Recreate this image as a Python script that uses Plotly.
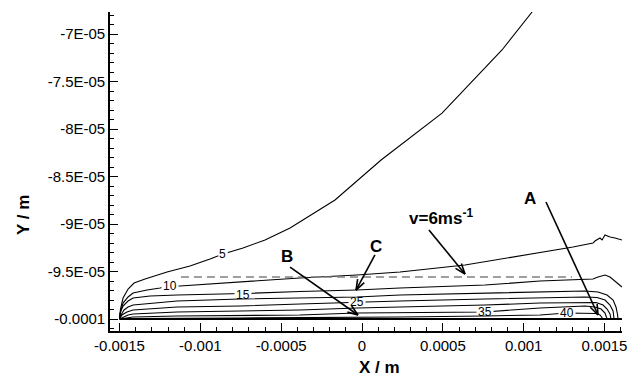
import numpy as np
import plotly.graph_objects as go

# ---------------- data (x in units of 1e-4 m, y in units of 1e-5 m) ----------------
levels = [5, 10, 15, 20, 25, 30, 35, 40]

c5_x = [-15.0, -14.94, -14.78, -14.47, -14.10, -13.42, -12.06, -10.64, -9.40, -8.60, -7.36, -6.00, -4.45, -1.67, 1.18, 4.95, 8.66, 10.52]
c5_y = [-10.0, -9.895, -9.779, -9.684, -9.621, -9.579, -9.505, -9.442, -9.368, -9.316, -9.253, -9.168, -9.042, -8.747, -8.326, -7.832, -7.168, -6.768]

c10_x = [-15.0, -14.91, -14.78, -14.47, -14.16, -13.30, -12.49, -11.88, -11.26, -7.55, -3.84, -0.31, 2.35, 6.37, 11.01, 13.05, 14.29, 14.41, 14.72, 14.85, 15.03, 15.34, 15.65, 16.08]
c10_y = [-10.0, -9.905, -9.832, -9.768, -9.726, -9.695, -9.674, -9.653, -9.653, -9.611, -9.568, -9.537, -9.505, -9.432, -9.305, -9.242, -9.200, -9.179, -9.147, -9.168, -9.116, -9.137, -9.147, -9.168]

c15_x = [-15.0, -14.97, -14.78, -14.47, -14.16, -13.11, -11.44, -7.36, -3.84, -0.31, 2.35, 7.61, 11.01, 13.05, 14.29, 14.60, 15.03, 15.34, 15.65, 16.08]
c15_y = [-10.0, -9.937, -9.863, -9.811, -9.779, -9.758, -9.747, -9.732, -9.711, -9.695, -9.674, -9.642, -9.600, -9.589, -9.579, -9.558, -9.537, -9.558, -9.600, -9.663]

c20_x = [-15.0, -14.91, -14.72, -14.47, -14.16, -11.44, -7.55, -3.84, -0.31, 2.35, 7.61, 11.01, 13.79, 14.60, 15.16, 15.53, 15.71, 15.80, 15.84]
c20_y = [-10.0, -9.958, -9.905, -9.874, -9.853, -9.811, -9.789, -9.779, -9.768, -9.747, -9.726, -9.716, -9.705, -9.716, -9.747, -9.800, -9.874, -9.947, -10.0]

c25_x = [-15.0, -14.85, -14.54, -14.16, -11.44, -7.55, -3.84, -0.31, 2.35, 7.61, 11.01, 13.79, 14.54, 15.03, 15.34, 15.53, 15.59]
c25_y = [-10.0, -9.958, -9.926, -9.905, -9.874, -9.863, -9.842, -9.821, -9.811, -9.789, -9.779, -9.768, -9.774, -9.800, -9.853, -9.916, -10.0]

c30_x = [-15.0, -14.78, -14.47, -14.16, -11.44, -7.55, -3.84, -0.31, 2.35, 7.61, 11.01, 13.79, 14.48, 14.91, 15.16, 15.34, 15.40]
c30_y = [-10.0, -9.979, -9.958, -9.947, -9.926, -9.916, -9.905, -9.884, -9.874, -9.853, -9.832, -9.821, -9.826, -9.853, -9.895, -9.947, -10.0]

c35_x = [-15.0, -14.66, -14.16, -11.44, -7.55, -3.84, -0.31, 2.35, 7.61, 11.01, 13.79, 14.41, 14.79, 15.03, 15.16]
c35_y = [-10.0, -9.989, -9.979, -9.968, -9.963, -9.958, -9.937, -9.932, -9.926, -9.884, -9.863, -9.874, -9.895, -9.937, -10.0]

c40_x = [-15.0, -14.16, -7.55, -0.31, 2.35, 7.61, 11.01, 12.68, 13.79, 14.48, 14.72, 14.91]
c40_y = [-10.0, -9.995, -9.989, -9.984, -9.979, -9.968, -9.958, -9.937, -9.937, -9.942, -9.958, -10.0]

contour_x = [c5_x, c10_x, c15_x, c20_x, c25_x, c30_x, c35_x, c40_x]
contour_y = [c5_y, c10_y, c15_y, c20_y, c25_y, c30_y, c35_y, c40_y]

# contour labels
label_text = ["5", "10", "15", "25", "35", "40"]
label_x = [-8.60, -11.88, -7.36, -0.31, 7.61, 12.68]
label_y = [-9.311, -9.653, -9.742, -9.821, -9.926, -9.937]

# wall and v = 6 m/s dashed line
wall_x = [-15.0, 16.08]
wall_y = [-10.0, -10.0]
dash_x = [-11.20, 12.99]
dash_y = [-9.558, -9.558]

# callouts: text position, arrow tail, arrow tip
call_text = ["A", "B", "C", "v=6ms<sup>-1</sup>"]
call_tx = [10.42, -4.61, 0.84, 4.89]
call_ty = [-8.732, -9.342, -9.237, -8.926]
arr_x0 = [11.38, -4.45, 0.80, 4.14]
arr_y0 = [-8.768, -9.453, -9.326, -9.063]
arr_x1 = [14.60, -0.25, -0.37, 6.37]
arr_y1 = [-9.958, -9.958, -9.695, -9.526]

x_ticks = [-0.0015, -0.001, -0.0005, 0, 0.0005, 0.001, 0.0015]
x_ticktext = ["-0.0015", "-0.001", "-0.0005", "0", "0.0005", "0.001", "0.0015"]
y_ticks = [-7e-05, -7.5e-05, -8e-05, -8.5e-05, -9e-05, -9.5e-05, -0.0001]
y_ticktext = ["-7E-05", "-7.5E-05", "-8E-05", "-8.5E-05", "-9E-05", "-9.5E-05", "-0.0001"]

SX, SY = 1e-4, 1e-5

# ---------------- figure ----------------
W, H = 641, 377
ML, MR, MT, MB = 110, 19, 12, 46
xr = [-0.0015588, 0.0016082]
yr = [-1.01263e-4, -6.768e-5]
kx = (W - ML - MR) / (xr[1] - xr[0])
ky = (H - MT - MB) / (yr[1] - yr[0])

FONT = "Arial, Liberation Sans, Helvetica, sans-serif"

fig = go.Figure()

for cx, cy in zip(contour_x, contour_y):
    fig.add_trace(go.Scatter(x=np.array(cx) * SX, y=np.array(cy) * SY, mode="lines",
                             line=dict(color="black", width=1.1), hoverinfo="skip",
                             showlegend=False))

fig.add_trace(go.Scatter(x=np.array(dash_x) * SX, y=np.array(dash_y) * SY, mode="lines",
                         line=dict(color="#808080", width=1.6, dash="8px,5px"),
                         hoverinfo="skip", showlegend=False))
fig.add_trace(go.Scatter(x=np.array(wall_x) * SX, y=np.array(wall_y) * SY, mode="lines",
                         line=dict(color="black", width=2.2), hoverinfo="skip",
                         showlegend=False))

shapes = []
annotations = []

# contour labels with small white gap behind them
for t, lx, ly in zip(label_text, label_x, label_y):
    w = 7.5 * len(t) + 2
    shapes.append(dict(type="rect", xref="x", yref="y", xsizemode="pixel", ysizemode="pixel",
                       xanchor=lx * SX, yanchor=ly * SY, x0=-w / 2, x1=w / 2, y0=-3, y1=3,
                       fillcolor="white", line=dict(width=0), layer="above"))
    annotations.append(dict(x=lx * SX, y=ly * SY, xref="x", yref="y", text=t, showarrow=False,
                            font=dict(family=FONT, size=12, color="black"),
                            xanchor="center", yanchor="middle"))

# arrows with open V heads
HL, HA = 11.0, np.radians(20)
for x0, y0, x1, y1 in zip(arr_x0, arr_y0, arr_x1, arr_y1):
    X0, Y0, X1, Y1 = x0 * SX, y0 * SY, x1 * SX, y1 * SY
    shapes.append(dict(type="line", xref="x", yref="y", x0=X0, y0=Y0, x1=X1, y1=Y1,
                       line=dict(color="black", width=1.6), layer="above"))
    px0, py0, px1, py1 = X0 * kx, Y0 * ky, X1 * kx, Y1 * ky
    d = np.array([px0 - px1, py0 - py1])
    d = d / np.linalg.norm(d)
    for s in (1, -1):
        a = s * HA
        r = np.array([d[0] * np.cos(a) - d[1] * np.sin(a), d[0] * np.sin(a) + d[1] * np.cos(a)])
        wx, wy = px1 + HL * r[0], py1 + HL * r[1]
        shapes.append(dict(type="line", xref="x", yref="y", x0=X1, y0=Y1, x1=wx / kx, y1=wy / ky,
                           line=dict(color="black", width=1.6), layer="above"))

for t, tx, ty in zip(call_text, call_tx, call_ty):
    annotations.append(dict(x=tx * SX, y=ty * SY, xref="x", yref="y", text="<b>" + t + "</b>",
                            showarrow=False, font=dict(family=FONT, size=17, color="black"),
                            xanchor="center", yanchor="middle"))

# axis titles
annotations.append(dict(x=(379 - ML) / (W - ML - MR), y=-(367 - (H - MB)) / (H - MT - MB),
                        xref="paper", yref="paper", text="<b>X / m</b>", showarrow=False,
                        font=dict(family=FONT, size=17, color="black"),
                        xanchor="center", yanchor="middle"))
annotations.append(dict(x=(23 - ML) / (W - ML - MR), y=((H - MB) - 215) / (H - MT - MB),
                        xref="paper", yref="paper", text="<b>Y / m</b>", showarrow=False,
                        textangle=-90, font=dict(family=FONT, size=17, color="black"),
                        xanchor="center", yanchor="middle"))

axis_common = dict(showline=True, linecolor="black", linewidth=1.6, ticks="inside",
                   ticklen=8, tickwidth=1.4, tickcolor="black", showgrid=False, zeroline=False,
                   tickfont=dict(family=FONT, size=15, color="black"), mirror=False)

fig.update_layout(
    width=W, height=H, autosize=False,
    margin=dict(l=ML, r=MR, t=MT, b=MB, pad=0),
    plot_bgcolor="white", paper_bgcolor="white",
    xaxis=dict(range=xr, tickmode="array", tickvals=x_ticks, ticktext=x_ticktext,
               minor=dict(ticks="inside", ticklen=4, tickwidth=1, tickcolor="black",
                          dtick=0.0001, tick0=-0.0015, showgrid=False),
               **axis_common),
    yaxis=dict(range=yr, tickmode="array", tickvals=y_ticks, ticktext=y_ticktext,
               minor=dict(ticks="inside", ticklen=4, tickwidth=1, tickcolor="black",
                          dtick=1e-6, tick0=-1e-4, showgrid=False),
               **axis_common),
    shapes=shapes, annotations=annotations, showlegend=False,
)

fig.write_html("out.html")
